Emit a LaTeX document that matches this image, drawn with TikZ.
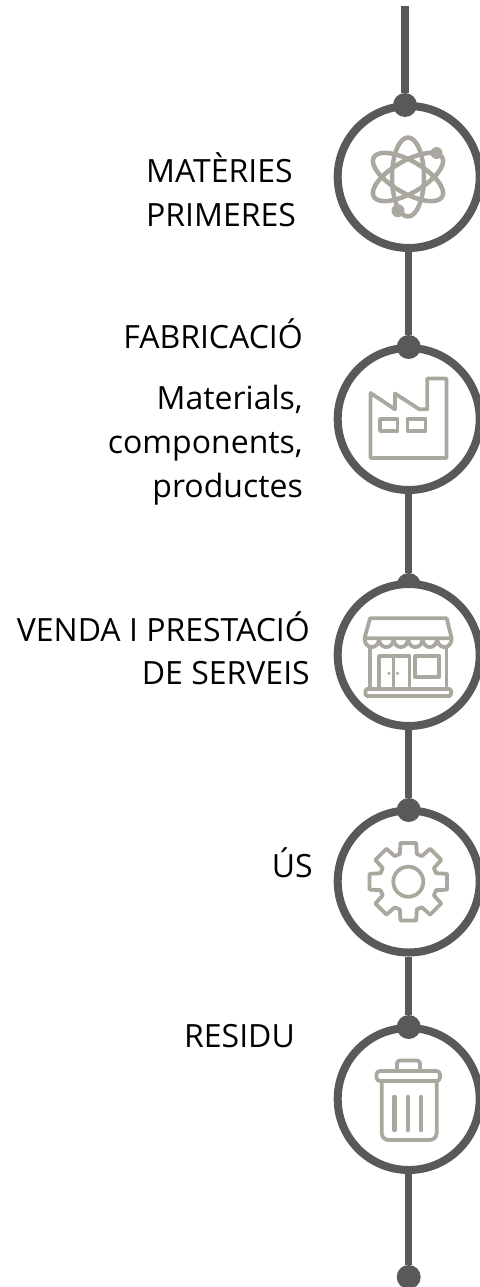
\documentclass[tikz,border=0pt]{standalone}
\usepackage{fontspec}
\setmainfont{Open Sans}
\usepackage{xcolor}
\usetikzlibrary{backgrounds}
\definecolor{spinegray}{HTML}{595959}
\definecolor{glyphgray}{HTML}{AAA89E}
\tikzset{
  ring/.style={circle,draw=spinegray,line width=8pt,fill=white,inner sep=0pt,minimum size=142pt},
  dot/.style={circle,fill=spinegray,inner sep=0pt,minimum size=24pt},
  endpt/.style={inner sep=0pt,minimum size=0pt},
  spine/.style={draw=spinegray,line width=7.5pt},
  glyph/.style={draw=glyphgray,line width=3.8pt,line join=round},
  glyphfill/.style={fill=glyphgray},
  label/.style={font=\fontsize{32}{44}\selectfont,text=black,inner sep=0pt}
}
\begin{document}
\begin{tikzpicture}[x=1pt,y=-1pt]
  \useasboundingbox (0,0) rectangle (479,1287);
  % rings and dots
  \node[ring] (ringA) at (408.7,177) {};
  \node[ring] (ringB) at (408.7,419) {};
  \node[dot] (dotC) at (408.7,585) {};
  \node[ring] (ringC) at (408.7,655) {};
  \node[ring] (ringD) at (408.7,881.5) {};
  \node[ring] (ringE) at (408.7,1099) {};
  \node[dot] (dotA) at (405,105) {};
  \node[dot] (dotB) at (408.7,347) {};
  \node[dot] (dotD) at (408.7,810) {};
  \node[dot] (dotE) at (408.7,1027) {};
  \node[dot] (dotF) at (408.7,1277) {};
  \node[endpt] (topend) at (405,6) {};
  % connectors
  \begin{scope}[on background layer]
    \draw[spine] (topend) -- (dotA);
    \draw[spine] (ringA) -- (dotB);
    \draw[spine] (ringB) -- (dotC);
    \draw[spine] (ringC) -- (dotD);
    \draw[spine] (ringD) -- (dotE);
    \draw[spine] (ringE) -- (dotF);
  \end{scope}
  % atom
  \begin{scope}[shift={(408,177)}]
    \foreach \A in {90,30,150} \draw[glyph,line width=4.5pt,rotate=\A] (0,0) ellipse (39.5 and 16);
    \fill[glyphfill] (28.5,-24) circle (6);
    \fill[glyphfill] (-10,33.7) circle (6.5);
  \end{scope}
  % factory
  \draw[glyph] (370.5,393) -- (395,409.3) -- (395,393.5) -- (419.3,409.3) -- (427.3,409.3)
    -- (427.3,378.5) -- (446.5,378.5) -- (446.5,458) -- (370.5,458) -- cycle;
  \draw[glyph] (380,419) rectangle (397.5,431);
  \draw[glyph] (407.5,419) rectangle (425.5,431);
  % shop
  \draw[glyph] (370,618.3) -- (446.7,618.3) -- (451.7,638.3) -- (364.5,638.3) -- cycle;
  \foreach \X in {0,...,5}
    \draw[glyph] (364.5+14.53*\X,638.3) .. controls (364.5+14.53*\X,650) and (379+14.53*\X,650) .. (379.03+14.53*\X,638.3);
  \draw[glyph] (370,647) -- (370,687);
  \draw[glyph] (446.5,647) -- (446.5,687);
  \draw[glyph] (379,687) -- (379,656) -- (409.5,656) -- (409.5,687);
  \draw[glyph] (393.5,656) -- (393.5,687);
  \draw[glyph] (415,656) rectangle (439.3,676.7);
  \fill[glyphfill] (389,673.3) circle (1.7);
  \fill[glyphfill] (397.5,673.3) circle (1.7);
  \draw[glyph,rounded corners=1.5pt] (365.5,689) rectangle (451,696);
  % gear
  \begin{scope}[shift={(408.3,881.7)}]
    \draw[glyph] (-17:29) \foreach \A in {0,45,...,315} { -- (\A-17:29) -- (\A-11.5:39.5) -- (\A+11.5:39.5) -- (\A+17:29) } -- cycle;
    \draw[glyph] (0,0) circle (15);
  \end{scope}
  % bin
  \draw[glyph,rounded corners=3pt] (397,1069) -- (397,1060.5) -- (420,1060.5) -- (420,1069);
  \draw[glyph,rounded corners=3.5pt] (376.5,1071) rectangle (440,1081);
  \draw[glyph,rounded corners=7pt] (381.7,1081) -- (381.7,1140) -- (436.7,1140) -- (436.7,1081);
  \foreach \X in {394.3,408,421}
    \draw[glyph,line width=4.5pt,line cap=round] (\X,1097) -- (\X,1130);
  % labels
  \node[label,anchor=base west] (matA) at (146,182) {MATÈRIES};
  \node[label,anchor=base west] (matB) at (146,226) {PRIMERES};
  \node[label,anchor=base east] (fabA) at (303,348) {FABRICACIÓ};
  \node[label,anchor=base east] (fabB) at (303,409) {Materials,};
  \node[label,anchor=base east] (fabC) at (303,453) {components,};
  \node[label,anchor=base east] (fabD) at (303,497) {productes};
  \node[label,anchor=base east] (venA) at (310,641) {VENDA I PRESTACIÓ};
  \node[label,anchor=base east] (venB) at (310,684) {DE SERVEIS};
  \node[label,anchor=base east] (usA) at (313,877) {ÚS};
  \node[label,anchor=base east] (resA) at (295,1047) {RESIDU};
\end{tikzpicture}
\end{document}
